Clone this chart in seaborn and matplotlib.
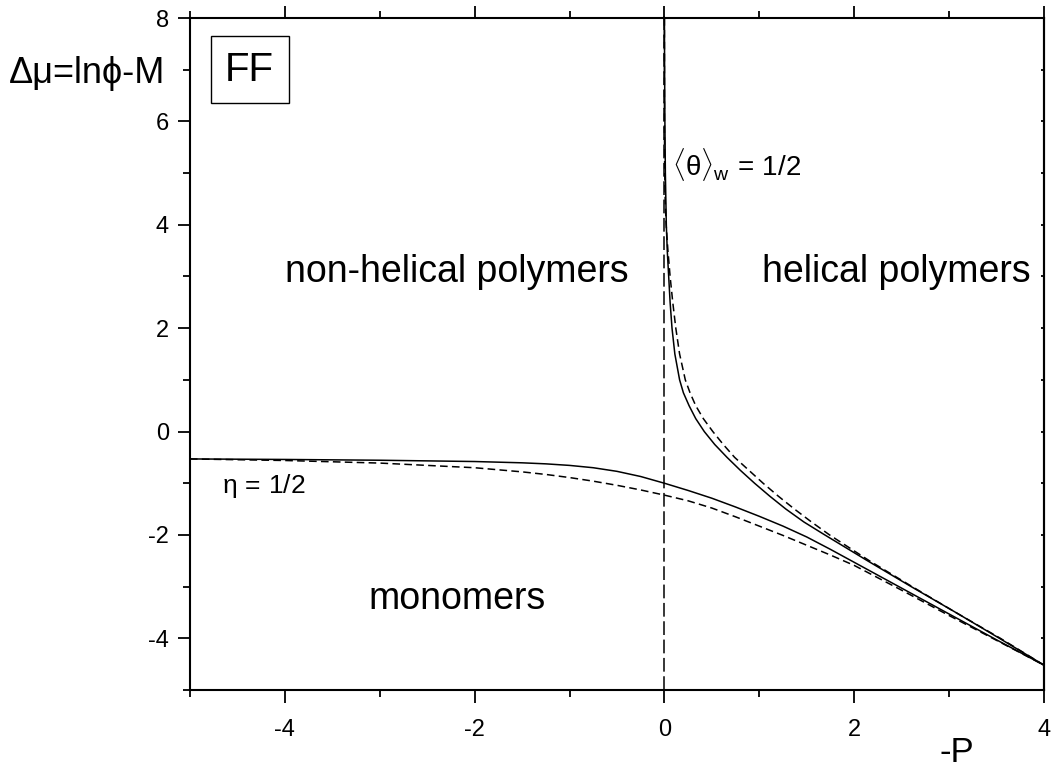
import matplotlib
matplotlib.use("Agg")
import matplotlib.pyplot as plt
import seaborn as sns
from matplotlib.ticker import FixedLocator

# ---- data ----
eta_solid_x = [-5, -4, -3, -2, -1.5, -1.25, -1.0, -0.75, -0.5, -0.25, 0, 0.25, 0.5, 0.75, 1.0, 1.25, 1.5, 1.75, 2.0, 2.5, 3.0, 3.5, 4.0]
eta_solid_y = [-0.53, -0.54, -0.555, -0.58, -0.605, -0.625, -0.655, -0.70, -0.77, -0.87, -1.0, -1.14, -1.29, -1.46, -1.64, -1.83, -2.04, -2.28, -2.53, -3.03, -3.53, -4.03, -4.52]

eta_dash_x = [-5, -4, -3, -2, -1.5, -1.25, -1.0, -0.75, -0.5, -0.25, 0, 0.25, 0.5, 0.75, 1.0, 1.25, 1.5, 1.75, 2.0, 2.5, 3.0, 3.5, 4.0]
eta_dash_y = [-0.53, -0.56, -0.61, -0.70, -0.78, -0.83, -0.89, -0.96, -1.04, -1.13, -1.23, -1.34, -1.48, -1.65, -1.83, -2.01, -2.20, -2.39, -2.59, -3.07, -3.56, -4.04, -4.52]

theta_solid_y = [8.0, 7.0, 6.0, 5.0, 4.0, 3.5, 3.0, 2.5, 2.0, 1.5, 1.0, 0.75, 0.5, 0.25, 0.0, -0.25, -0.5, -0.75, -1.0, -1.25, -1.5, -1.75, -2.0, -2.5, -3.0, -3.5, -4.0, -4.52]
theta_solid_x = [0.0, 0.002, 0.005, 0.01, 0.02, 0.03, 0.045, 0.06, 0.08, 0.11, 0.16, 0.20, 0.26, 0.33, 0.42, 0.53, 0.66, 0.80, 0.95, 1.11, 1.28, 1.47, 1.69, 2.14, 2.60, 3.07, 3.53, 4.0]

theta_dash_y = [8.0, 6.0, 5.0, 4.5, 4.0, 3.5, 3.0, 2.5, 2.0, 1.5, 1.0, 0.75, 0.5, 0.25, 0.0, -0.25, -0.5, -0.75, -1.0, -1.25, -1.5, -1.75, -2.0, -2.5, -3.0, -3.5, -4.0, -4.52]
theta_dash_x = [0.0, 0.0, 0.003, 0.008, 0.018, 0.037, 0.06, 0.088, 0.12, 0.16, 0.22, 0.27, 0.33, 0.41, 0.51, 0.62, 0.74, 0.89, 1.04, 1.20, 1.37, 1.55, 1.74, 2.16, 2.61, 3.07, 3.54, 4.0]

vline_x = [0.0, 0.0]
vline_y = [-5.0, 8.12]

x_major = [-4, -2, 0, 2, 4]
x_minor = [-5, -3, -1, 1, 3]
y_major = [-4, -2, 0, 2, 4, 6, 8]
y_minor = [-5, -3, -1, 1, 3, 5, 7]

# ---- style ----
sns.set_style("ticks")
plt.rcParams['font.family'] = ['Liberation Sans', 'DejaVu Sans']
plt.rcParams['text.color'] = 'black'
plt.rcParams['xtick.color'] = 'black'
plt.rcParams['ytick.color'] = 'black'
plt.rcParams['axes.edgecolor'] = 'black'
plt.rcParams['mathtext.fontset'] = 'custom'
plt.rcParams['mathtext.rm'] = 'Liberation Sans'
plt.rcParams['mathtext.it'] = 'Liberation Sans'
plt.rcParams['mathtext.bf'] = 'Liberation Sans'

fig = plt.figure(figsize=(10.55, 7.67), dpi=100)
ax = fig.add_axes([0.180, 0.1004, 0.8096, 0.8761])

lw = 1.1
dash = (0, (5, 2.8))
common = dict(sort=False, estimator=None, color='black', lw=lw, ax=ax)
sns.lineplot(x=eta_solid_x, y=eta_solid_y, **common)
sns.lineplot(x=eta_dash_x, y=eta_dash_y, linestyle=dash, **common)
sns.lineplot(x=theta_solid_x, y=theta_solid_y, **common)
sns.lineplot(x=theta_dash_x, y=theta_dash_y, linestyle=dash, **common)
sns.lineplot(x=vline_x, y=vline_y, linestyle=(0, (9, 3)), **common)
ax.lines[-1].set_clip_on(False)

ax.set_xlim(-5, 4)
ax.set_ylim(-5, 8)
ax.xaxis.set_major_locator(FixedLocator(x_major))
ax.xaxis.set_minor_locator(FixedLocator(x_minor))
ax.yaxis.set_major_locator(FixedLocator(y_major))
ax.yaxis.set_minor_locator(FixedLocator(y_minor))
ax.set_xticklabels([str(v) for v in x_major])
ax.set_yticklabels([str(v) for v in y_major])

for s in ax.spines.values():
    s.set_linewidth(1.5)
    s.set_visible(True)

ax.tick_params(axis='both', which='major', direction='out', length=9, width=1.3,
               labelsize=17, colors='black')
ax.tick_params(axis='both', which='minor', direction='out', length=5, width=1.3)
ax.tick_params(axis='x', which='both', top=True)
ax.tick_params(axis='x', which='major', pad=12)
ax.tick_params(axis='y', which='major', pad=6)
ax.tick_params(axis='y', which='both', right=False)
ax.set_xlabel('')
ax.set_ylabel('')

# tiny inward ticks on the right spine
ax_r = ax.secondary_yaxis('right')
ax_r.set_yticks(y_major + y_minor)
ax_r.tick_params(direction='in', length=2.5, width=1.3, labelright=False)
ax_r.spines['right'].set_linewidth(1.5)

# ---- annotations ----
big = 27
ax.text(-4.0, 2.89, 'non-helical polymers', fontsize=big, ha='left', va='baseline')
ax.text(1.03, 2.89, 'helical polymers', fontsize=big, ha='left', va='baseline')
ax.text(-3.12, -3.43, 'monomers', fontsize=big, ha='left', va='baseline')
ax.text(-4.66, -1.19, r'$\mathrm{\eta}\,=\,1/2$', fontsize=19, ha='left', va='baseline')
ax.text(0.08, 4.94, r'$\langle\mathrm{\theta}\rangle_{\mathrm{w}}\,=\,1/2$', fontsize=20,
        ha='left', va='baseline')

fig.text(165 / 1055, 1 - 83 / 767, 'Δμ=lnϕ-M', fontsize=26, ha='right', va='baseline')
ax.text(-4.37, 7.0, 'FF', fontsize=29, ha='center', va='center',
        bbox=dict(boxstyle='square,pad=0.36', fc='white', ec='black', lw=1.0))
fig.text(957 / 1055, 1 - 762 / 767, '-P', fontsize=25, ha='center', va='baseline')

fig.savefig('out.png', dpi=100)
